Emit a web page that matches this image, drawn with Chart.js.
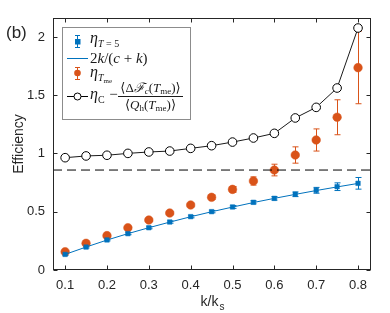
<!DOCTYPE html>
<html>
<head>
<meta charset="utf-8">
<script src="https://cdn.jsdelivr.net/npm/chart.js@4/dist/chart.umd.min.js"></script>
<style>
  html, body { margin: 0; padding: 0; background: #fff; }
  #wrap { width: 390px; height: 313px; position: relative; }
</style>
</head>
<body>
<div id="wrap"><canvas id="chart" width="390" height="313"></canvas></div>
<script>
// Efficiency vs k/k_s — panel (b)

const K_VALUES = [0.1, 0.15, 0.2, 0.25, 0.3, 0.35, 0.4, 0.45, 0.5, 0.55, 0.6, 0.65, 0.7, 0.75, 0.8];

// eta_{T=5} (blue squares) and its error
const ETA_T5 = [0.134, 0.197, 0.258, 0.312, 0.363, 0.412, 0.458, 0.501, 0.541, 0.581, 0.615, 0.650, 0.684, 0.715, 0.744];
const ETA_T5_ERR = [0.008, 0.008, 0.008, 0.009, 0.009, 0.01, 0.01, 0.01, 0.012, 0.013, 0.015, 0.02, 0.025, 0.033, 0.05];

// 2k/(c+k) theory line
const THEORY = [0.134, 0.197, 0.257, 0.312, 0.363, 0.411, 0.457, 0.500, 0.540, 0.579, 0.615, 0.649, 0.682, 0.713, 0.743];

// eta_{T_me} (orange circles) and its error
const ETA_TME = [0.157, 0.229, 0.295, 0.363, 0.429, 0.489, 0.558, 0.624, 0.692, 0.764, 0.858, 0.987, 1.116, 1.311, 1.737];
const ETA_TME_ERR = [0.01, 0.01, 0.01, 0.012, 0.012, 0.013, 0.015, 0.018, 0.025, 0.035, 0.05, 0.07, 0.095, 0.15, 0.31];

// eta_C - <dF_c>/<Q_h> (open black circles)
const ETA_BOUND = [0.964, 0.979, 0.985, 1.001, 1.013, 1.021, 1.044, 1.067, 1.098, 1.133, 1.173, 1.305, 1.396, 1.562, 2.077];

const CARNOT = 0.858;

const X_MIN = 0.071, X_MAX = 0.831;
const Y_MIN = 0, Y_MAX = 2.163;
const X_TICKS = [0.1, 0.2, 0.3, 0.4, 0.5, 0.6, 0.7, 0.8];
const Y_TICKS = [0, 0.5, 1, 1.5, 2];

const BLUE = "#0072BD";
const ORANGE = "#D95319";
const AXIS = "#262626";
const SANS = '"Liberation Sans", Arial, Helvetica, sans-serif';
const SERIF = '"Liberation Serif", "DejaVu Serif", serif';

function pts(ys) { return K_VALUES.map((k, i) => ({ x: k, y: ys[i] })); }

// error bars, drawn through the chart scales
const errorBars = {
  id: "errorBars",
  beforeDatasetsDraw(chart) {
    const { ctx, scales: { x, y } } = chart;
    const sets = [[ETA_T5, ETA_T5_ERR, BLUE], [ETA_TME, ETA_TME_ERR, ORANGE]];
    ctx.save();
    ctx.lineWidth = 1;
    sets.forEach(([vals, errs, col]) => {
      ctx.strokeStyle = col;
      K_VALUES.forEach((k, i) => {
        const px = Math.round(x.getPixelForValue(k)) + 0.5;
        const top = y.getPixelForValue(vals[i] + errs[i]);
        const bot = y.getPixelForValue(vals[i] - errs[i]);
        ctx.beginPath();
        ctx.moveTo(px, top); ctx.lineTo(px, bot);
        ctx.moveTo(px - 3, top); ctx.lineTo(px + 3, top);
        ctx.moveTo(px - 3, bot); ctx.lineTo(px + 3, bot);
        ctx.stroke();
      });
    });
    ctx.restore();
  }
};

function runs(ctx, x, y, parts) {
  parts.forEach((p) => {
    ctx.font = p.f;
    ctx.fillText(p.t, x + (p.dx || 0), y + (p.dy || 0));
    x += ctx.measureText(p.t).width + (p.dx || 0);
  });
  return x;
}

// box, inward ticks, axis titles, panel label and legend
const frame = {
  id: "frame",
  afterDraw(chart) {
    const { ctx, chartArea: a, scales: { x, y } } = chart;
    ctx.save();
    ctx.strokeStyle = AXIS;
    ctx.lineWidth = 1;
    const L = Math.round(a.left) + 0.5, R = Math.round(a.right) - 0.5;
    const T = Math.round(a.top) + 0.5, B = Math.round(a.bottom) - 0.5;
    ctx.strokeRect(L, T, R - L, B - T);
    ctx.beginPath();
    X_TICKS.forEach((v) => {
      const px = Math.round(x.getPixelForValue(v)) + 0.5;
      ctx.moveTo(px, B); ctx.lineTo(px, B - 4);
      ctx.moveTo(px, T); ctx.lineTo(px, T + 4);
    });
    Y_TICKS.forEach((v) => {
      const py = Math.round(y.getPixelForValue(v)) + 0.5;
      ctx.moveTo(L, py); ctx.lineTo(L + 4, py);
      ctx.moveTo(R, py); ctx.lineTo(R - 4, py);
    });
    ctx.stroke();

    ctx.fillStyle = AXIS;
    ctx.textBaseline = "alphabetic";
    // panel label
    ctx.font = "17px " + SANS;
    ctx.textAlign = "left";
    ctx.fillText("(b)", 6, 38);

    // x title k/k_s
    const cx = (a.left + a.right) / 2;
    ctx.font = "14px " + SANS;
    const w1 = ctx.measureText("k/k").width;
    ctx.font = "10px " + SANS;
    const w2 = ctx.measureText("s").width;
    runs(ctx, cx - (w1 + w2) / 2, 306, [{ t: "k/k", f: "14px " + SANS }, { t: "s", f: "10px " + SANS, dy: 4, dx: 1 }]);

    // y title
    ctx.save();
    ctx.translate(23, (a.top + a.bottom) / 2);
    ctx.rotate(-Math.PI / 2);
    ctx.textAlign = "center";
    ctx.font = "14px " + SANS;
    ctx.fillText("Efficiency", 0, 0);
    ctx.restore();

    // legend
    const lx = 62.5, ly = 27.5, lw = 128, lh = 92;
    ctx.fillStyle = "#fff";
    ctx.fillRect(lx, ly, lw, lh);
    ctx.strokeStyle = "#8c8c8c";
    ctx.strokeRect(lx, ly, lw, lh);

    // entry 1: blue square + error bar
    ctx.strokeStyle = BLUE; ctx.fillStyle = BLUE;
    ctx.beginPath();
    ctx.moveTo(77.5, 35); ctx.lineTo(77.5, 48);
    ctx.moveTo(75, 35.5); ctx.lineTo(80, 35.5);
    ctx.moveTo(75, 47.5); ctx.lineTo(80, 47.5);
    ctx.stroke();
    ctx.fillRect(75, 39, 5.5, 5.5);
    // entry 2: blue line
    ctx.beginPath(); ctx.moveTo(67, 58.5); ctx.lineTo(88, 58.5); ctx.stroke();
    // entry 3: orange dot + error bar
    ctx.strokeStyle = ORANGE; ctx.fillStyle = ORANGE;
    ctx.beginPath();
    ctx.moveTo(77.5, 67); ctx.lineTo(77.5, 80);
    ctx.moveTo(75, 67.5); ctx.lineTo(80, 67.5);
    ctx.moveTo(75, 79.5); ctx.lineTo(80, 79.5);
    ctx.stroke();
    ctx.beginPath(); ctx.arc(77.5, 73, 3.3, 0, Math.PI * 2); ctx.fill();
    // entry 4: black line with open circle
    ctx.strokeStyle = "#000";
    ctx.beginPath(); ctx.moveTo(67, 96.5); ctx.lineTo(88, 96.5); ctx.stroke();
    ctx.fillStyle = "#fff";
    ctx.beginPath(); ctx.arc(77.5, 96.5, 3.5, 0, Math.PI * 2); ctx.fill(); ctx.stroke();

    // legend texts
    ctx.fillStyle = "#1a1a1a";
    ctx.textAlign = "left";
    const eta = "italic 16px " + SERIF;
    runs(ctx, 90, 43, [{ t: "η", f: eta }, { t: "T", f: "italic 10px " + SERIF, dy: 4, dx: 0 },
      { t: " = 5", f: "10px " + SERIF, dy: 4 }]);
    runs(ctx, 90, 63, [{ t: "2", f: "15px " + SERIF }, { t: "k", f: "italic 15px " + SERIF },
      { t: "/(", f: "15px " + SERIF }, { t: "c", f: "italic 15px " + SERIF },
      { t: " + ", f: "15px " + SERIF }, { t: "k", f: "italic 15px " + SERIF }, { t: ")", f: "15px " + SERIF }]);
    runs(ctx, 90, 77, [{ t: "η", f: eta }, { t: "T", f: "italic 10px " + SERIF, dy: 4 },
      { t: "me", f: "7px " + SERIF, dy: 6 }]);
    runs(ctx, 90, 99, [{ t: "η", f: eta }, { t: "C", f: "10px " + SERIF, dy: 4 },
      { t: " −", f: "15px " + SERIF, dx: 1 }]);
    // fraction
    const fs = "13px " + SERIF, fi = "italic 13px " + SERIF;
    const sub = "9px " + SERIF, subi = "italic 9px " + SERIF;
    const num = [{ t: "⟨Δ", f: fs }, { t: "ℱ", f: fi }, { t: "c", f: subi, dy: 2 },
      { t: "(", f: fs }, { t: "T", f: fi }, { t: "me", f: sub, dy: 2 }, { t: ")⟩", f: fs }];
    const den = [{ t: "⟨", f: fs }, { t: "Q", f: fi }, { t: "h", f: sub, dy: 2 },
      { t: "(", f: fs }, { t: "T", f: fi }, { t: "me", f: sub, dy: 2 }, { t: ")⟩", f: fs }];
    const width = (parts) => parts.reduce((s, p) => { ctx.font = p.f; return s + ctx.measureText(p.t).width; }, 0);
    const fx0 = 118, fx1 = 183, fc = (fx0 + fx1) / 2;
    runs(ctx, fc - width(num) / 2, 92, num);
    runs(ctx, fc - width(den) / 2, 109, den);
    ctx.strokeStyle = "#1a1a1a";
    ctx.beginPath(); ctx.moveTo(fx0, 96.5); ctx.lineTo(fx1, 96.5); ctx.stroke();
    ctx.restore();
  }
};

new Chart(document.getElementById("chart"), {
  type: "line",
  data: {
    datasets: [
      {
        data: [{ x: X_MIN, y: CARNOT }, { x: X_MAX, y: CARNOT }],
        borderColor: "#000", borderWidth: 1, borderDash: [9, 5], pointRadius: 0,
      },
      {
        data: pts(THEORY),
        borderColor: BLUE, borderWidth: 1, pointRadius: 0,
      },
      {
        data: pts(ETA_T5), showLine: false,
        pointStyle: "rect", pointRadius: 3.2, backgroundColor: BLUE, borderColor: BLUE, borderWidth: 0.5,
      },
      {
        data: pts(ETA_TME), showLine: false,
        pointStyle: "circle", pointRadius: 4.3, backgroundColor: ORANGE, borderColor: ORANGE, borderWidth: 0.5,
      },
      {
        data: pts(ETA_BOUND),
        borderColor: "#1a1a1a", borderWidth: 1,
        pointStyle: "circle", pointRadius: 4.3, pointBackgroundColor: "#fff",
        pointBorderColor: "#000", pointBorderWidth: 1,
      },
    ],
  },
  options: {
    responsive: false,
    animation: false,
    layout: { padding: { top: 18, right: 19, left: 0, bottom: 0 } },
    plugins: { legend: { display: false }, tooltip: { enabled: false } },
    scales: {
      x: {
        type: "linear", min: X_MIN, max: X_MAX,
        grid: { display: false, drawTicks: false },
        border: { display: false },
        ticks: { font: { size: 13, family: SANS }, color: AXIS, padding: 8, maxRotation: 0, callback: (v) => String(v) },
        afterBuildTicks: (s) => { s.ticks = X_TICKS.map((value) => ({ value })); },
        afterFit: (s) => { s.height = 43; },
      },
      y: {
        type: "linear", min: Y_MIN, max: Y_MAX,
        grid: { display: false, drawTicks: false },
        border: { display: false },
        ticks: { font: { size: 13, family: SANS }, color: AXIS, padding: 8, callback: (v) => String(v) },
        afterBuildTicks: (s) => { s.ticks = Y_TICKS.map((value) => ({ value })); },
        afterFit: (s) => { s.width = 53; },
      },
    },
  },
  plugins: [errorBars, frame],
});
</script>
</body>
</html>
